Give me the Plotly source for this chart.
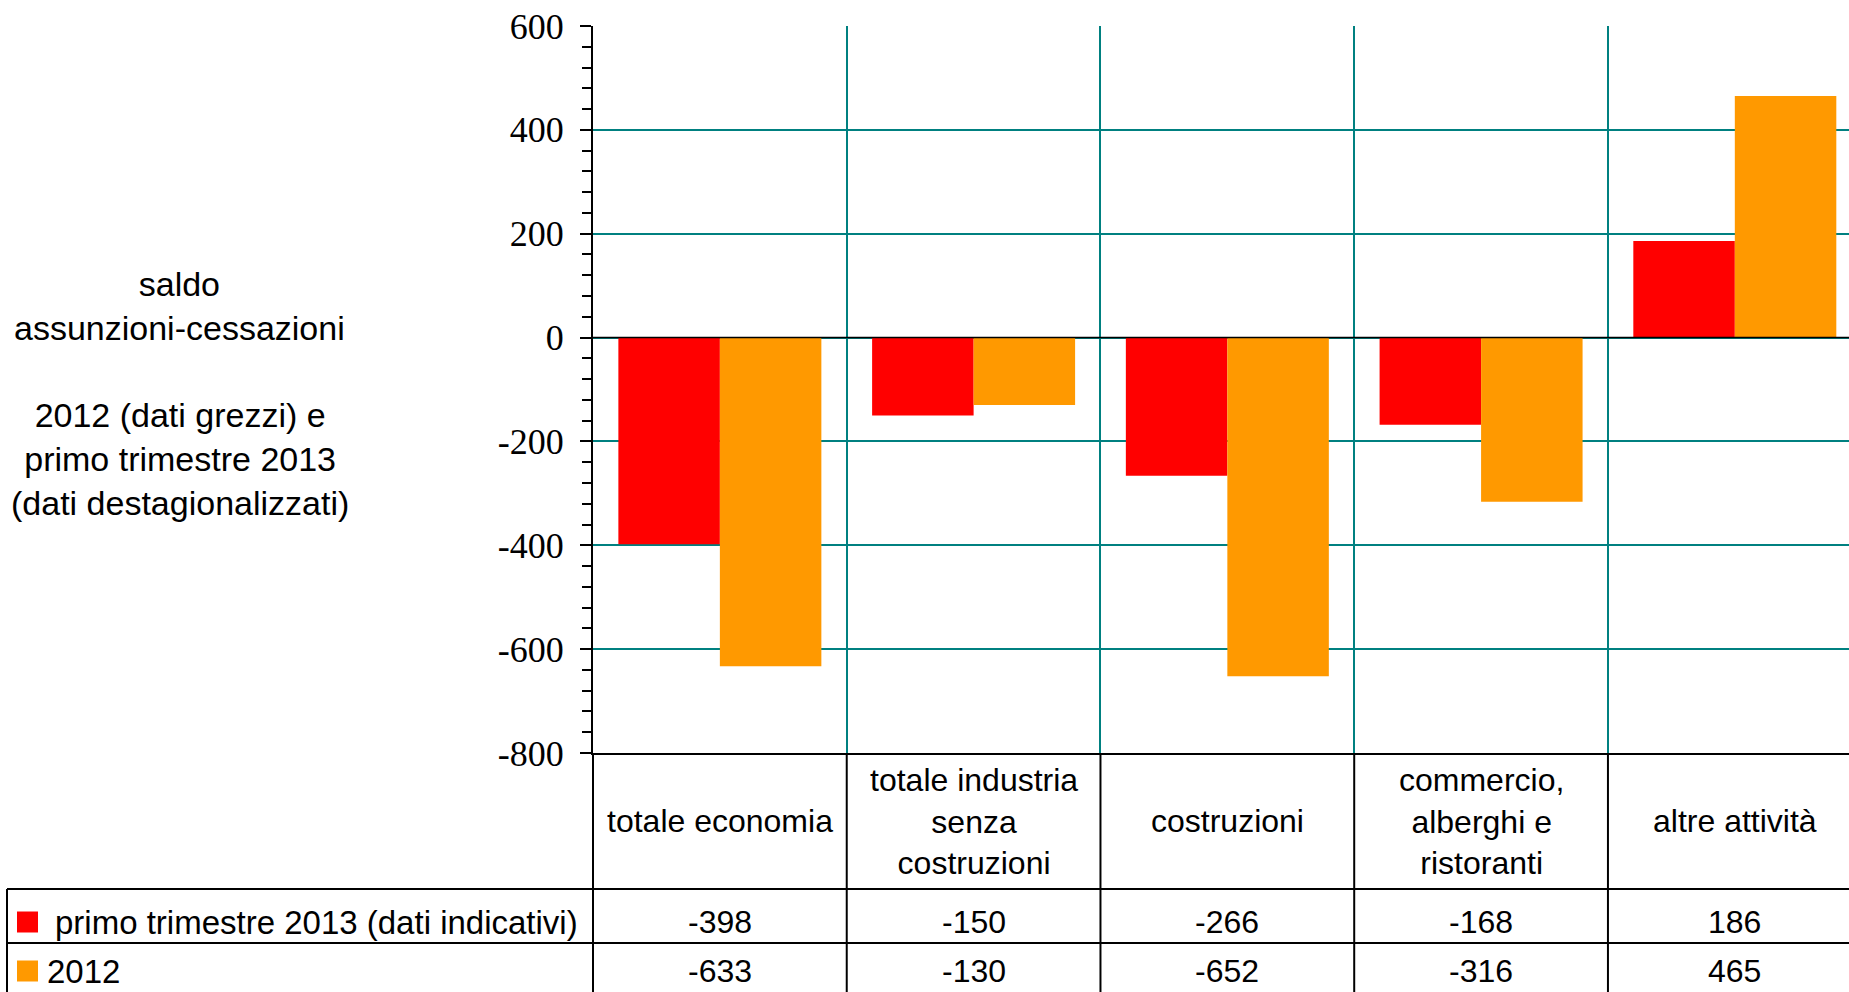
import plotly.graph_objects as go

# dati
categorie = ["totale economia", "totale industria<br>senza<br>costruzioni", "costruzioni",
             "commercio,<br>alberghi e<br>ristoranti", "altre attività"]
primo_trim_2013 = [-398, -150, -266, -168, 186]
anno_2012 = [-633, -130, -652, -316, 465]
nomi_serie = ["primo trimestre 2013 (dati indicativi)", "2012"]
colori = ["#FF0000", "#FF9900"]
y_ticks = [-800, -600, -400, -200, 0, 200, 400, 600]

W, H = 1849, 992
# area del grafico in pixel
left, right, top, bottom = 593, 1849, 26, 753
teal = "#008080"
sans = "Liberation Sans"
serif = "Liberation Serif"


def px_x(px):
    return (px - left) / (right - left)


def px_y(py):
    return (bottom - py) / (bottom - top)


fig = go.Figure()
for nome, valori, colore in zip(nomi_serie, [primo_trim_2013, anno_2012], colori):
    fig.add_trace(go.Bar(x=categorie, y=valori, name=nome,
                         marker=dict(color=colore, line=dict(width=0))))

fig.update_layout(
    width=W, height=H,
    margin=dict(l=left, r=W - right, t=top, b=H - bottom, pad=0),
    plot_bgcolor="white", paper_bgcolor="white",
    barmode="group", bargap=0.2, bargroupgap=0,
    showlegend=False,
    font=dict(family=sans, size=32, color="black"),
    # parte interna delle tacche principali
    yaxis2=dict(overlaying="y", anchor="x", side="left", range=[-800, 600],
                tickmode="array", tickvals=y_ticks, ticks="inside", ticklen=9,
                tickwidth=2, tickcolor="black", showticklabels=False,
                showgrid=False, zeroline=False, showline=False),
)
fig.update_xaxes(
    type="category", range=[-0.5, 4.45],
    tickson="boundaries", showgrid=True, gridcolor=teal, gridwidth=1.5,
    showticklabels=False, ticks="",
    showline=True, linecolor="black", linewidth=2,
)
fig.update_layout(yaxis=dict(
    range=[-800, 600], tickmode="array", tickvals=y_ticks,
    ticktext=[str(v) for v in y_ticks],
    tickfont=dict(family=serif, size=36, color="black"),
    ticks="outside", ticklen=11, tickwidth=2, tickcolor="black",
    ticklabelstandoff=9,
    minor=dict(dtick=40, ticks="outside", ticklen=9, tickwidth=2, tickcolor="black", showgrid=False),
    showgrid=True, gridcolor=teal, gridwidth=1.5,
    zeroline=False,
    showline=True, linecolor="black", linewidth=2,
))

# linea dello zero sopra le barre
fig.add_shape(type="line", xref="paper", yref="y", x0=0, x1=1, y0=0, y1=0,
              line=dict(color="black", width=1.5), layer="above")

# tabella sotto il grafico
riga1, riga2 = 889, 943
for py in [riga1, riga2]:
    fig.add_shape(type="line", xref="paper", yref="paper", x0=px_x(7), x1=1,
                  y0=px_y(py), y1=px_y(py), line=dict(color="black", width=2))
fig.add_shape(type="line", xref="paper", yref="paper", x0=px_x(7), x1=px_x(7),
              y0=px_y(riga1), y1=px_y(H + 5), line=dict(color="black", width=2))
fig.add_shape(type="line", xref="paper", yref="paper", x0=0, x1=0,
              y0=0, y1=px_y(H + 5), line=dict(color="black", width=2))
for i in range(1, len(categorie)):
    fig.add_shape(type="line", xref="x", yref="paper", x0=i - 0.5, x1=i - 0.5,
                  y0=0, y1=px_y(H + 5), line=dict(color="black", width=2))

for cat in categorie:
    fig.add_annotation(x=cat, xref="x", y=px_y(821), yref="paper", text=cat,
                       showarrow=False, xanchor="center", yanchor="middle", align="center")
for valori, py in zip([primo_trim_2013, anno_2012], [922, 971]):
    for cat, v in zip(categorie, valori):
        fig.add_annotation(x=cat, xref="x", y=px_y(py), yref="paper", text=str(v),
                           showarrow=False, xanchor="center", yanchor="middle")

# chiavi della legenda
for nome, colore, py, tx in zip(nomi_serie, colori, [922, 971], [53, 45]):
    fig.add_shape(type="rect", xref="paper", yref="paper", x0=px_x(17), x1=px_x(38),
                  y0=px_y(py - 10.5), y1=px_y(py + 10.5), fillcolor=colore, line=dict(width=0))
    fig.add_annotation(x=px_x(tx), xref="paper", y=px_y(py), yref="paper", text=nome,
                       showarrow=False, xanchor="left", yanchor="middle", font=dict(size=33))

# titolo a sinistra
fig.add_annotation(x=px_x(179), xref="paper", y=px_y(306), yref="paper",
                   text="saldo<br>assunzioni-cessazioni", showarrow=False,
                   xanchor="center", yanchor="middle", font=dict(size=34), align="center")
fig.add_annotation(x=px_x(180), xref="paper", y=px_y(459), yref="paper",
                   text="2012 (dati grezzi) e<br>primo trimestre 2013<br>(dati destagionalizzati)",
                   showarrow=False, xanchor="center", yanchor="middle", font=dict(size=34),
                   align="center")

fig.write_html("out.html", config={"displayModeBar": False},
               post_script="document.body.style.margin='0';")
